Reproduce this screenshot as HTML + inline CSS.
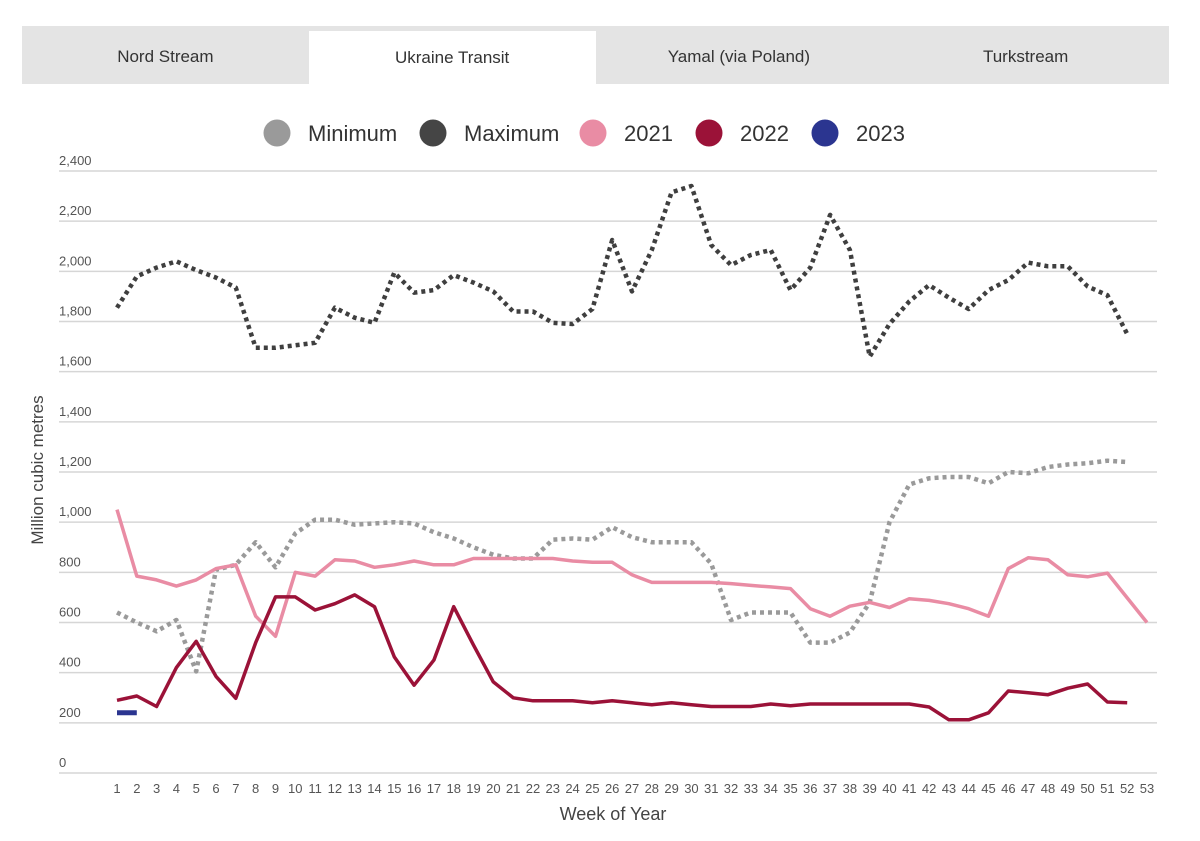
<!DOCTYPE html>
<html><head><meta charset="utf-8">
<style>
body{margin:0;background:#fff;font-family:"Liberation Sans",sans-serif;}
#wrap{position:relative;width:1200px;height:841px;overflow:hidden;}
.tabs{position:absolute;left:22px;top:26px;width:1147px;height:58px;background:#e4e4e4;display:flex;}
.tab{flex:1;display:flex;align-items:center;justify-content:center;font-size:17px;color:#333;padding-top:4px;box-sizing:border-box;}
.tab.active{background:#fff;margin-top:5px;padding-top:0;}
</style></head><body>
<div id="wrap">
<div class="tabs">
<div class="tab">Nord Stream</div>
<div class="tab active">Ukraine Transit</div>
<div class="tab">Yamal (via Poland)</div>
<div class="tab">Turkstream</div>
</div>
<svg id="chart" width="1200" height="841" style="position:absolute;left:0;top:0"></svg>
</div>
<script>
const weeks=[];for(let i=1;i<=53;i++)weeks.push(i);
const yTicks=[0,200,400,600,800,1000,1200,1400,1600,1800,2000,2200,2400];
const minimum=[640,600,565,610,405,810,830,920,820,955,1010,1010,990,995,1000,995,960,935,900,870,855,855,930,935,930,980,940,920,920,920,835,610,640,640,640,520,520,560,680,1000,1150,1175,1180,1180,1155,1200,1195,1220,1230,1235,1245,1240];
const maximum=[1855,1980,2015,2040,2005,1975,1935,1695,1695,1705,1715,1855,1815,1795,1995,1915,1925,1985,1955,1920,1840,1840,1795,1790,1850,2125,1920,2085,2315,2340,2105,2025,2065,2085,1925,2015,2225,2085,1660,1790,1880,1945,1895,1850,1925,1965,2035,2020,2020,1940,1905,1750];
const y2021=[1050,785,770,745,770,815,830,625,545,800,785,850,845,820,830,845,830,830,855,855,855,855,855,845,840,840,790,760,760,760,760,755,748,742,735,655,625,665,680,660,695,688,675,655,625,815,858,850,790,782,797,698,600];
const y2022=[290,307,265,420,525,385,298,520,702,702,650,675,710,663,463,350,450,663,510,363,300,288,288,288,280,288,280,272,280,272,265,265,265,275,268,275,275,275,275,275,275,263,212,212,240,327,320,312,338,355,283,280];
const y2023=[240,240];
const legendNames=["Minimum","Maximum","2021","2022","2023"];
const legendColors=["#9a9a9a","#454545","#e98ca4","#9b1238","#2b3590"];

const NS="http://www.w3.org/2000/svg";
const svg=document.getElementById('chart');
const xS=w=>117+(w-1)*(1147-117)/52;
const yS=v=>773-v*(773-171)/2400;
function mk(t,a){const e=document.createElementNS(NS,t);for(const k in a)e.setAttribute(k,a[k]);svg.appendChild(e);return e;}
yTicks.forEach(v=>{
  const l=mk('line',{x1:59,x2:1157,y1:yS(v),y2:yS(v),stroke:'#d6d6d6','stroke-width':1.5});
  
  
  const t=mk('text',{x:59,y:yS(v)-6,'font-size':13,fill:'#555'});
  t.textContent=v.toLocaleString('en-US');
  
  
});
weeks.forEach(w=>{
  const t=mk('text',{x:xS(w),y:793,'font-size':13,fill:'#555','text-anchor':'middle'});
  t.textContent=w;
  
  
});
const yt=mk('text',{x:0,y:0,'font-size':17,fill:'#444','text-anchor':'middle',transform:'translate(43,470) rotate(-90)'});
yt.textContent='Million cubic metres';


const xt=mk('text',{x:613,y:820,'font-size':18,fill:'#444','text-anchor':'middle'});
xt.textContent='Week of Year';


function line(data,color,w,dash,name){
  const d=data.map((v,i)=>(i?'L':'M')+xS(i+1).toFixed(1)+','+yS(v).toFixed(1)).join('');
  const p=mk('path',{d:d,fill:'none',stroke:color,'stroke-width':w,'stroke-dasharray':dash||'none','stroke-linejoin':'round'});
  
  
}
line(minimum,'#9a9a9a',4.5,'4 4','series-minimum');
line(maximum,'#3f3f3f',4.5,'4 4','series-maximum');
line(y2021,'#e98ca4',3.5,null,'series-2021');
line(y2022,'#9b1238',3.5,null,'series-2022');
line(y2023,'#2b3590',5,null,'series-2023');
const lx=[277,433,593,709,825];
legendNames.forEach((n,i)=>{
  const c=mk('circle',{cx:lx[i],cy:133,r:13.5,fill:legendColors[i]});
  
  
  const t=mk('text',{x:lx[i]+31,y:141,'font-size':22,fill:'#333'});
  t.textContent=n;
  
  
});
</script>
</body></html>
